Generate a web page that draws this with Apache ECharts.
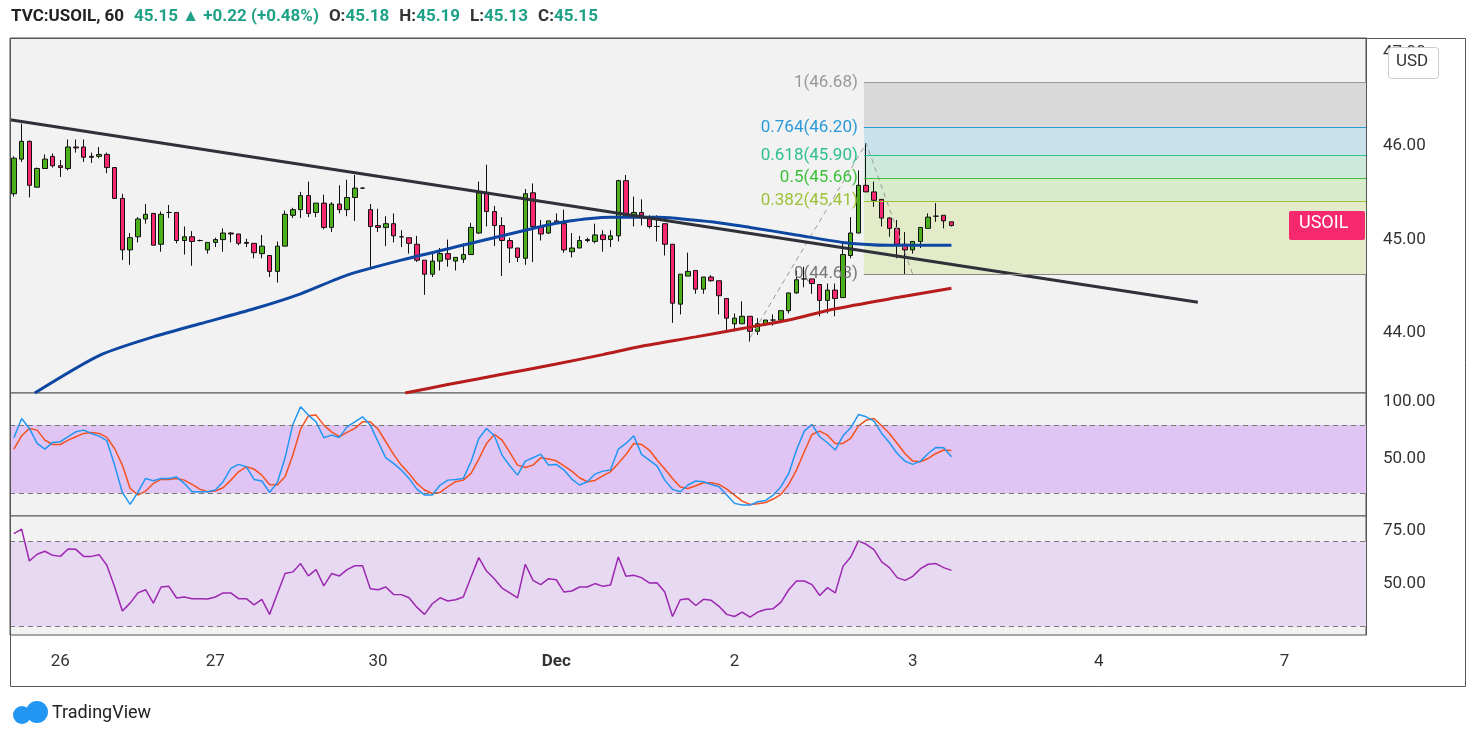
<!DOCTYPE html>
<html>
<head>
<meta charset="utf-8">
<script src="https://cdn.jsdelivr.net/npm/echarts@6/dist/echarts.min.js"></script>
<style>html,body{margin:0;padding:0;background:#fff}#res{width:1471px;height:741px}</style>
</head>
<body>
<div id="res"></div>
<script>
// hourly candles, rows are [open, high, low, close]
var ohlc = [
[45.49,45.89,45.46,45.87],[45.86,46.24,45.83,46.05],[46.05,46.06,45.45,45.58],[45.56,45.77,45.56,45.76],[45.76,45.91,45.76,45.86],
[45.89,45.92,45.77,45.79],[45.79,45.85,45.67,45.77],[45.76,46.07,45.74,45.99],[45.99,46.07,45.93,45.98],[45.99,46.07,45.83,45.88],
[45.89,45.93,45.82,45.88],[45.89,45.99,45.87,45.91],[45.91,45.93,45.71,45.77],[45.77,45.77,45.44,45.44],[45.44,45.49,44.78,44.89],
[44.89,45.07,44.73,45.02],[45.03,45.24,44.97,45.22],[45.22,45.38,45.17,45.27],[45.28,45.28,44.94,44.94],[44.95,45.30,44.87,45.27],
[45.29,45.37,45.23,45.29],[45.29,45.29,44.96,44.99],[44.99,45.14,44.84,45.03],[45.03,45.09,44.72,44.98],[44.99,45.00,44.98,44.99],
[44.89,44.97,44.85,44.97],[44.97,45.02,44.92,45.00],[45.00,45.12,44.87,45.07],[45.07,45.08,44.97,45.06],[45.06,45.06,44.94,44.96],
[44.97,45.01,44.92,44.96],[44.96,44.96,44.80,44.86],[44.85,45.05,44.80,44.93],[44.83,44.83,44.60,44.66],[44.66,44.98,44.54,44.93],
[44.93,45.31,44.93,45.27],[45.26,45.34,45.23,45.32],[45.32,45.51,45.23,45.47],[45.47,45.62,45.24,45.28],[45.29,45.39,45.24,45.39],
[45.39,45.48,45.11,45.13],[45.13,45.40,45.08,45.38],[45.38,45.58,45.28,45.32],[45.32,45.64,45.25,45.45],[45.45,45.69,45.20,45.55],
[45.55,45.56,45.54,45.55],[45.32,45.38,44.69,45.14],[45.15,45.33,45.08,45.13],[45.13,45.25,44.93,45.17],[45.17,45.28,44.97,45.04],
[45.03,45.10,44.92,45.03],[45.02,45.02,44.85,44.96],[44.95,45.04,44.76,44.78],[44.78,44.78,44.41,44.63],[44.63,44.86,44.60,44.77],
[44.77,44.91,44.67,44.85],[44.85,45.00,44.71,44.79],[44.77,44.81,44.67,44.81],[44.79,44.96,44.75,44.84],[44.84,45.18,44.84,45.13],
[45.07,45.62,45.06,45.50],[45.50,45.80,45.14,45.30],[45.30,45.36,44.93,45.15],[45.15,45.24,44.61,44.99],[44.99,45.02,44.75,44.91],
[44.91,44.91,44.76,44.81],[44.80,45.54,44.73,45.49],[45.50,45.60,44.76,45.14],[45.14,45.21,44.99,45.06],[45.07,45.20,45.06,45.20],
[45.20,45.28,45.17,45.17],[45.17,45.32,44.86,44.89],[44.87,45.07,44.81,44.91],[44.91,45.04,44.91,44.99],[44.99,45.02,44.97,45.00],
[44.98,45.17,44.96,45.05],[45.05,45.10,44.87,45.00],[45.00,45.10,44.92,45.04],[45.04,45.64,44.98,45.63],[45.63,45.69,45.24,45.25],
[45.25,45.46,45.14,45.29],[45.29,45.43,45.15,45.26],[45.24,45.26,45.12,45.14],[45.14,45.26,44.98,45.14],[45.17,45.17,44.83,44.95],
[44.95,44.95,44.11,44.32],[44.31,44.63,44.20,44.63],[44.61,44.86,44.61,44.66],[44.67,44.67,44.42,44.47],[44.47,44.60,44.42,44.60],
[44.60,44.62,44.55,44.56],[44.56,44.56,44.20,44.40],[44.37,44.37,44.02,44.16],[44.10,44.21,44.02,44.16],[44.10,44.34,44.10,44.18],
[44.18,44.18,43.91,44.02],[44.02,44.16,43.98,44.10],[44.10,44.14,44.08,44.14],[44.14,44.20,44.08,44.14],[44.14,44.24,44.14,44.24],
[44.24,44.43,44.21,44.43],[44.43,44.67,44.42,44.57],[44.58,44.71,44.49,44.58],[44.58,44.58,44.42,44.53],[44.52,44.52,44.18,44.35],
[44.35,44.53,44.21,44.46],[44.46,44.53,44.18,44.37],[44.38,44.96,44.38,44.84],[44.83,45.24,44.80,45.07],[45.07,45.74,45.07,45.58],
[45.58,46.03,45.51,45.51],[45.51,45.62,45.35,45.42],[45.43,45.43,45.14,45.23],[45.23,45.24,45.03,45.12],[45.12,45.21,44.80,44.95],
[44.95,45.08,44.63,44.89],[44.89,44.98,44.85,44.98],[44.98,45.13,44.91,45.13],[45.12,45.28,45.12,45.24],[45.25,45.39,45.19,45.25],
[45.26,45.26,45.12,45.20],[45.19,45.19,45.14,45.15]
];

var totalBars = 175;
var dayLabels = {6:'26', 26:'27', 47:'30', 70:'Dec', 93:'2', 116:'3', 140:'4', 164:'7'};

// moving averages, [bar, price]
var ma100 = [[2.7,43.36],[11,43.76],[18,43.96],[24,44.10],[31,44.26],[37,44.42],[43,44.62],[50,44.78],[59,44.96],[66,45.10],[71,45.19],[77,45.24],[83,45.24],[90,45.19],[95,45.13],[101,45.05],[107,44.97],[113,44.94],[121,44.94]];
var ma200 = [[50.5,43.36],[56,43.45],[63,43.56],[70,43.67],[76,43.77],[81,43.86],[88,43.96],[94,44.05],[100,44.14],[106,44.26],[114,44.38],[121,44.48]];
var trendLine = [[-0.5,46.28],[152.8,44.33]];
var swing = [[95,43.95],[110,46.03],[116,44.63]];

var fibLevels = ['1', '0.764', '0.618', '0.5', '0.382', '0'];
var fibPrices = [46.68, 46.20, 45.90, 45.66, 45.41, 44.63];
var fibLine = ['#999999', '#2a9bd6', '#2dbf8e', '#3cc03c', '#9cc23a', '#888888'];
var fibFill = ['#d9d9d9', '#c9e1ea', '#cde9dc', '#d6ecca', '#e3ebc9'];

var stochK = [68.7,85.6,76.9,63.7,58.7,64.6,65.2,69.6,73.9,75.4,72.5,70.1,66.1,44.7,20.7,10.2,20.7,33,31,33,
33,34.2,28.6,21.3,21.3,21.3,22.8,30.1,41.8,45.3,43.2,32.1,30.7,20.7,29.5,51.1,80.4,95.9,88.6,82.7,
68.7,71,69,78.3,82.7,87.1,79.8,65.2,51.1,46.2,40.3,33,23.6,18.4,18.4,27.2,31.5,32.1,33,47.6,
68.1,76.9,70.4,53.5,44.1,35.9,48.2,51.1,54.3,44.7,45.3,40.3,32.4,27.2,30.1,36.8,39.4,40.3,58.7,63.7,
70.4,54.1,49.1,44.1,31.5,23.4,21.3,27.2,30.7,30.1,27.7,25.7,18.4,11.1,9.6,9.6,12.5,13.7,18.4,25.7,
37.4,57.9,74.5,80.4,69.6,64.3,57.9,70.4,77.4,89.1,87.1,83.3,72.5,64.3,54.9,48.2,45.3,48.2,54.9,60.2,
59.9,52];
var stochD = [58.7,70.4,76.9,75.4,66.6,62.8,62.8,66.6,69.6,72.5,73.4,72.5,69,59.3,44.7,24.2,18.4,21.9,28.6,32.1,
32.1,33,31.5,27.7,23.6,21.3,21.9,24.8,31.5,38.8,43.2,41.2,35.9,27.7,27.2,34.5,53.5,76.3,88,88.6,
79.8,73.9,69.6,73.4,76.9,82.7,82.7,76.3,65.2,54.1,44.7,37.4,28.6,22.8,19.8,20.7,25.7,30.1,31.5,37.4,
50,63.7,71.6,66.6,55.8,44.7,42.6,44.7,51.1,50,48.5,44.1,39.4,33.6,30.1,31.2,35.3,38.8,46.2,54.1,
63.7,62.8,57.9,49.1,41.2,33,25.4,24.2,26.6,29.2,29.2,27.7,23.6,18.4,13.1,10.2,10.8,11.9,14.9,19,
27.7,40.3,56.4,71.6,74.5,71,63.7,63.7,68.1,79.2,84.2,85.6,79.2,72.5,63.7,54.9,48.2,47.6,50.5,54.9,
57.9,57.6];
var rsi = [73.7,75.8,60.8,64,65.4,63.5,63.0,66.5,66.3,63.0,63.0,63.8,58.8,48.6,37.3,41.0,45.8,47.3,41.0,48.6,
48.9,43.4,43.9,43.1,43.1,42.9,43.9,45.8,45.8,43.1,43.1,40.2,42.8,35.7,45.4,54.9,55.7,59.6,53.8,56.8,
49.1,54.9,53.8,56.8,58.6,58.6,47.8,47.3,48.6,45.1,45.0,43.5,39.1,35.7,40.7,43.5,42.0,42.6,43.9,53.3,
62.4,56.1,52.5,48.1,45.8,43.5,59.3,51.7,49.7,52.5,52.0,46.2,46.7,48.6,48.6,50.2,48.9,49.5,62.7,53.6,
54.1,53.0,50.5,50.6,46.2,34.7,42.6,43.1,39.9,42.8,42.3,39.5,35.7,34.7,36.8,34.4,36.8,38.0,38.4,41.5,
47.3,51.4,51.4,49.7,44.6,48.3,45.8,58.3,62.7,70.3,68.7,66.2,60.4,57.7,53.0,51.7,53.6,57.2,59.3,59.6,
57.7,56.4];

var cats = [];
for (var i = 0; i < totalBars; i++) cats.push(dayLabels[i] || '');
var candles = ohlc.map(function (r) { return [r[0], r[3], r[2], r[1]]; });

var fibAreas = [], fibMarks = [];
for (var j = 0; j < fibPrices.length; j++) {
    fibMarks.push([
        {coord: [109.7, fibPrices[j]], lineStyle: {color: fibLine[j]},
         label: {color: j === 5 ? '#777' : fibLine[j], formatter: fibLevels[j] + '(' + fibPrices[j].toFixed(2) + ')'}},
        {coord: [174.5, fibPrices[j]]}
    ]);
    if (j < fibFill.length) {
        fibAreas.push([{coord: [109.7, fibPrices[j]], itemStyle: {color: fibFill[j]}}, {coord: [174.5, fibPrices[j + 1]]}]);
    }
}

var lbl = {fontFamily: 'Roboto', fontSize: 17, color: '#333'};
function yAx(grid, min, max, ticks) {
    return {
        type: 'value', gridIndex: grid, position: 'right', min: min, max: max, scale: true,
        axisLine: {show: true, onZero: false, lineStyle: {color: '#555'}}, axisTick: {show: false}, splitLine: {show: false},
        axisLabel: Object.assign({margin: 17, customValues: ticks, formatter: function (v) { return v.toFixed(2); }}, lbl)
    };
}
function band(lo, hi, fill) {
    return {
        silent: true,
        markArea: {itemStyle: {color: fill}, data: [[{yAxis: lo}, {yAxis: hi}]]},
        markLine: {symbol: 'none', label: {show: false}, lineStyle: {color: '#777', type: [5, 4], width: 1},
            data: [{yAxis: lo}, {yAxis: hi}]}
    };
}

var myChart = echarts.init(document.getElementById('res'));
var option = {
    animation: false,
    backgroundColor: '#fff',
    title: {
        left: 6, top: 3,
        text: '{b|TVC:USOIL, 60}  {g|45.15 ▲ +0.22 (+0.48%)}  {k|O:}{g|45.18}  {k|H:}{g|45.19}  {k|L:}{g|45.13}  {k|C:}{g|45.15}',
        textStyle: {rich: {
            b: {fontFamily: 'Roboto', fontSize: 17, fontWeight: 'bold', color: '#222'},
            g: {fontFamily: 'Roboto', fontSize: 17, color: '#1fa187'},
            k: {fontFamily: 'Roboto', fontSize: 17, color: '#333'}
        }}
    },
    grid: [
        {left: 10, right: 105, top: 38, height: 355, show: true, backgroundColor: '#f2f2f2', borderColor: '#555', borderWidth: 1},
        {left: 10, right: 105, top: 393, height: 123, show: true, backgroundColor: '#f2f2f2', borderColor: '#555', borderWidth: 1},
        {left: 10, right: 105, top: 516, height: 119, show: true, backgroundColor: '#f2f2f2', borderColor: '#555', borderWidth: 1}
    ],
    xAxis: [
        {type: 'category', gridIndex: 0, data: cats, axisLine: {show: false}, axisTick: {show: false}, axisLabel: {show: false}},
        {type: 'category', gridIndex: 1, data: cats, axisLine: {show: false}, axisTick: {show: false}, axisLabel: {show: false}},
        {type: 'category', gridIndex: 2, data: cats, axisLine: {show: false}, axisTick: {show: false},
            axisLabel: Object.assign({interval: 0, margin: 18, formatter: function (v) { return v === 'Dec' ? '{d|Dec}' : v; },
                rich: {d: {fontFamily: 'Roboto', fontSize: 17, fontWeight: 'bold', color: '#333'}}}, lbl)},
        {type: 'value', gridIndex: 0, min: -0.5, max: totalBars - 0.5, show: false}
    ],
    yAxis: [
        yAx(0, 43.36, 47.155, [44, 45, 46, 47]),
        yAx(1, 0, 108, [50, 100]),
        yAx(2, 26, 82, [50, 75])
    ],
    series: [
        {type: 'line', xAxisIndex: 3, yAxisIndex: 0, data: [], silent: true,
            markArea: {silent: true, data: fibAreas},
            markLine: {silent: true, symbol: 'none', lineStyle: {width: 1, type: 'solid'},
                label: {position: 'start', fontFamily: 'Roboto', fontSize: 17, distance: 6}, data: fibMarks}},
        {type: 'line', xAxisIndex: 3, yAxisIndex: 0, data: swing, symbol: 'none', silent: true,
            lineStyle: {color: '#999', width: 1, type: [5, 4]}},
        {type: 'line', xAxisIndex: 3, yAxisIndex: 0, data: ma200, symbol: 'none', smooth: 0.25,
            lineStyle: {color: '#b71c1c', width: 3}},
        {type: 'line', xAxisIndex: 3, yAxisIndex: 0, data: ma100, symbol: 'none', smooth: 0.25,
            lineStyle: {color: '#0d47a1', width: 3}},
        {type: 'line', xAxisIndex: 3, yAxisIndex: 0, data: trendLine, symbol: 'none',
            lineStyle: {color: '#2f3138', width: 3}},
        {type: 'candlestick', xAxisIndex: 0, yAxisIndex: 0, data: candles, barWidth: 5,
            itemStyle: {color: '#4caf1c', color0: '#f7296e', borderColor: '#111', borderColor0: '#111', borderWidth: 1}},
        Object.assign({type: 'line', xAxisIndex: 1, yAxisIndex: 1, data: []}, band(20, 80, '#e0c5f4')),
        {type: 'line', xAxisIndex: 1, yAxisIndex: 1, data: stochD, symbol: 'none', lineStyle: {color: '#f4511e', width: 1.5}},
        {type: 'line', xAxisIndex: 1, yAxisIndex: 1, data: stochK, symbol: 'none', lineStyle: {color: '#2196f3', width: 1.5}},
        Object.assign({type: 'line', xAxisIndex: 2, yAxisIndex: 2, data: []}, band(30, 70, '#e8d9f3')),
        {type: 'line', xAxisIndex: 2, yAxisIndex: 2, data: rsi, symbol: 'none', lineStyle: {color: '#9c27b0', width: 1.5}}
    ],
    graphic: [
        {type: 'rect', shape: {x: 10.5, y: 38.5, width: 1455, height: 648}, style: {fill: 'none', stroke: '#555', lineWidth: 1}, z: 100},
        {type: 'rect', left: 1289, top: 211, shape: {width: 76, height: 29, r: 2}, style: {fill: '#f7296e'}, z: 100},
        {type: 'text', left: 1299, top: 214, style: {text: 'USOIL', fill: '#fff', font: '18px Roboto'}, z: 101},
        {type: 'rect', left: 1388, top: 47, shape: {width: 50, height: 31, r: 3}, style: {fill: '#fff', stroke: '#ccc'}, z: 100},
        {type: 'text', left: 1396, top: 53, style: {text: 'USD', fill: '#333', font: '17px Roboto'}, z: 101},
        {type: 'circle', left: 13, top: 706, shape: {r: 9}, style: {fill: '#2196f3'}, z: 100},
        {type: 'circle', left: 26, top: 701, shape: {r: 11}, style: {fill: '#2196f3'}, z: 100},
        {type: 'text', left: 52, top: 704, style: {text: 'TradingView', fill: '#222', font: '18px Roboto'}, z: 101}
    ]
};
myChart.setOption(option);
</script>
</body>
</html>
